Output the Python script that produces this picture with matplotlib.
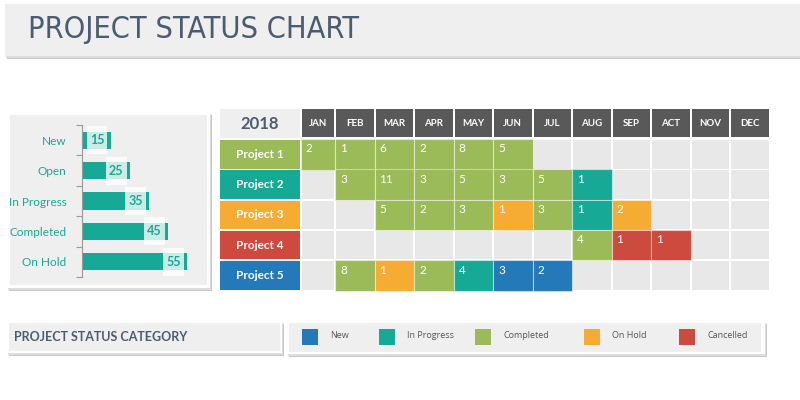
import matplotlib
matplotlib.use("Agg")
import matplotlib.pyplot as plt
from matplotlib.patches import Rectangle

# ---- data ----
months = ["JAN", "FEB", "MAR", "APR", "MAY", "JUN", "JUL", "AUG", "SEP", "ACT", "NOV", "DEC"]
projects = ["Project 1", "Project 2", "Project 3", "Project 4", "Project 5"]
project_status = ["C", "P", "H", "X", "N"]  # colour of each project label

# status code per month ("" = empty)
p1_status = ["C", "C", "C", "C", "C", "C", "", "", "", "", "", ""]
p1_value = [2, 1, 6, 2, 8, 5, 0, 0, 0, 0, 0, 0]
p2_status = ["", "C", "C", "C", "C", "C", "C", "P", "", "", "", ""]
p2_value = [0, 3, 11, 3, 5, 3, 5, 1, 0, 0, 0, 0]
p3_status = ["", "", "C", "C", "C", "H", "C", "P", "H", "", "", ""]
p3_value = [0, 0, 5, 2, 3, 1, 3, 1, 2, 0, 0, 0]
p4_status = ["", "", "", "", "", "", "", "C", "X", "X", "", ""]
p4_value = [0, 0, 0, 0, 0, 0, 0, 4, 1, 1, 0, 0]
p5_status = ["", "C", "H", "C", "P", "N", "N", "", "", "", "", ""]
p5_value = [0, 8, 1, 2, 4, 3, 2, 0, 0, 0, 0, 0]

categories = ["New", "Open", "In Progress", "Completed", "On Hold"]
counts = [15, 25, 35, 45, 55]

legend_codes = ["N", "P", "C", "H", "X"]
legend_names = ["New", "In Progress", "Completed", "On Hold", "Cancelled"]

colors = {"N": "#2479b9", "P": "#16a996", "C": "#9bbb59", "H": "#f6ac33", "X": "#cc4b3e"}
TEAL = "#16a996"
SLATE = "#4b5b70"
PANEL = "#efefef"
EMPTY = "#e8e8e8"

plt.rcParams["font.family"] = ["Lato", "DejaVu Sans"]

fig = plt.figure(figsize=(8, 4), dpi=100)
ax = fig.add_axes([0, 0, 1, 1])
ax.set_xlim(0, 800)
ax.set_ylim(400, 0)
ax.axis("off")


def box(x, y, w, h, color, shadow=True, z=1):
    if shadow:
        ax.add_patch(Rectangle((x + 2, y + 3), w, h, color="#c8c8c8", zorder=z - 0.2, lw=0))
        ax.add_patch(Rectangle((x + 1, y + 1.5), w, h, color="#dcdcdc", zorder=z - 0.1, lw=0))
    ax.add_patch(Rectangle((x, y), w, h, color=color, zorder=z, lw=0))


# ---- title ----
box(5, 4, 800, 52, PANEL)
ax.text(28, 30, "PROJECT STATUS CHART", fontsize=22, color=SLATE, fontstretch="condensed",
        family=["DejaVu Sans"], va="center", ha="left", zorder=3)

# ---- grid ----
col_x = [302] + [336 + 39.5 * i for i in range(11)]
col_w = [32] + [37.5] * 11
row_y = [140 + 30.3 * i for i in range(5)]
row_h = 28.5

ax.add_patch(Rectangle((220, 109), 80, 29, color=PANEL, lw=0))
ax.text(260, 124, "2018", fontsize=12, fontweight="bold", color=SLATE, ha="center", va="center")

for x, w, m in zip(col_x, col_w, months):
    ax.add_patch(Rectangle((x, 109), w, 28, color="#595959", lw=0))
    ax.text(x + w / 2, 123, m, fontsize=7, fontweight="bold", color="white", ha="center", va="center")

statuses = [p1_status, p2_status, p3_status, p4_status, p5_status]
values = [p1_value, p2_value, p3_value, p4_value, p5_value]

for r, (name, ps) in enumerate(zip(projects, project_status)):
    y = row_y[r]
    ax.add_patch(Rectangle((220, y), 80, row_h, color=colors[ps], lw=0))
    ax.text(260, y + row_h / 2, name, fontsize=8.5, fontweight="bold", color="white", ha="center", va="center")
    for c in range(12):
        x, w = col_x[c], col_w[c]
        s = statuses[r][c]
        if s:
            ax.add_patch(Rectangle((x - 1, y - 1), w + 2, row_h + 2, facecolor=colors[s],
                                   edgecolor=(1, 1, 1, 0.45), lw=0.8, zorder=2))
            ax.text(x + 4, y + 9, str(values[r][c]), fontsize=8.5, color="white",
                    ha="left", va="center", zorder=3)
        else:
            ax.add_patch(Rectangle((x, y), w, row_h, color=EMPTY, lw=0, zorder=1))

# ---- left bar panel ----
box(7, 112, 203, 176, "white")
ax.add_patch(Rectangle((10, 115), 197, 170, color=PANEL, lw=0, zorder=1.5))

bx = fig.add_axes([82 / 800, 1 - 277 / 400, 115 / 800, 152 / 400])
bx.patch.set_alpha(0)
ypos = list(range(len(categories)))
bx.barh(ypos, counts, height=0.56, color=TEAL, zorder=2)
bx.set_xlim(0, 60)
bx.set_ylim(len(categories) - 0.5, -0.5)
bx.set_yticks(ypos)
bx.set_yticklabels(categories, color=TEAL, fontsize=8.5)
bx.tick_params(axis="y", which="major", length=0, pad=11)
bx.set_yticks([i - 0.5 for i in range(len(categories) + 1)], minor=True)
bx.tick_params(axis="y", which="minor", length=4, color="#999999", width=0.8)
bx.set_xticks([])
for sp in ["top", "right", "bottom"]:
    bx.spines[sp].set_visible(False)
bx.spines["left"].set_color("#999999")
bx.spines["left"].set_linewidth(0.8)
for i, v in enumerate(counts):
    bx.add_patch(Rectangle((v - 12.5, i - 0.46), 10.8, 0.92, color="white", alpha=0.78, lw=0, zorder=3))
    bx.text(v - 7.1, i, str(v), fontsize=9, fontweight="bold", color=TEAL, ha="center", va="center", zorder=4)

# ---- bottom legend ----
box(7, 321, 275, 32, "white")
ax.add_patch(Rectangle((9, 323), 271, 28, color=PANEL, lw=0, zorder=1.5))
ax.text(14, 337, "PROJECT STATUS CATEGORY", fontsize=9, fontweight="bold", color=SLATE,
        ha="left", va="center", zorder=3)

box(287, 321, 478, 33, "white")
ax.add_patch(Rectangle((289, 323), 472, 29, color=PANEL, lw=0, zorder=1.5))
leg_x = [302, 379, 475, 584, 679]
for lx, code, name in zip(leg_x, legend_codes, legend_names):
    ax.add_patch(Rectangle((lx, 329), 16, 16, color=colors[code], lw=0, zorder=3))
    ax.text(lx + 28, 336, name, fontsize=6.5, color="#555555", ha="left", va="center", zorder=3,
            family=["Open Sans", "DejaVu Sans"])

fig.savefig("out.png", dpi=100, facecolor="white")
